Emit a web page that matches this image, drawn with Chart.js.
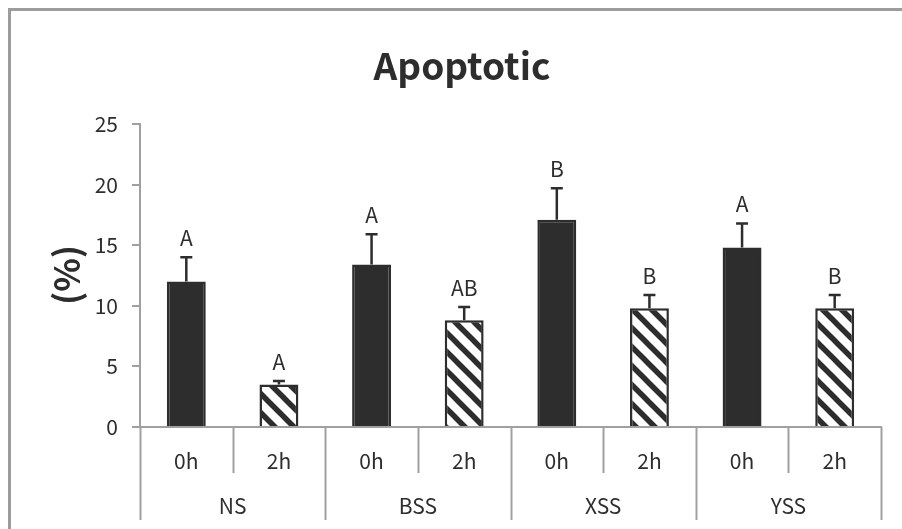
<!DOCTYPE html>
<html>
<head>
<meta charset="utf-8">
<title>Apoptotic</title>
<script src="https://cdn.jsdelivr.net/npm/chart.js@4.4.0/dist/chart.umd.min.js"></script>
<style>
  html, body { margin: 0; padding: 0; background: #fff; }
  #wrap { width: 902px; height: 529px; }
</style>
</head>
<body>
<div id="wrap"><canvas id="chart" width="902" height="529"></canvas></div>
<script>
// data
const groups = ['NS', 'BSS', 'XSS', 'YSS'];
const times = ['0h', '2h'];
const values = [12.0, 3.5, 13.4, 8.8, 17.1, 9.8, 14.8, 9.8];
const errors = [2.0, 0.3, 2.5, 1.1, 2.6, 1.1, 2.0, 1.1];
const letters = ['A', 'A', 'A', 'AB', 'B', 'B', 'A', 'B'];
const yTicks = [0, 5, 10, 15, 20, 25];

const FONT = '"Noto Sans CJK KR", "Noto Sans", sans-serif';
const DARK = '#2d2d2d';
const AXIS = '#a0a0a0';

// diagonal hatch for the 2h bars
function makeHatch() {
  const s = 19;
  const c = document.createElement('canvas');
  c.width = s;
  c.height = s;
  const g = c.getContext('2d');
  g.fillStyle = '#fff';
  g.fillRect(0, 0, s, s);
  g.strokeStyle = DARK;
  g.lineWidth = 5.5;
  for (let k = -1; k <= 1; k++) {
    g.beginPath();
    g.moveTo(-3, -3 + k * s);
    g.lineTo(s + 3, s + 3 + k * s);
    g.stroke();
  }
  return g.createPattern(c, 'repeat');
}
const hatch = makeHatch();

const labels = groups.flatMap(() => times);
const fills = labels.map((t, i) => (i % 2 === 0 ? DARK : hatch));

// frame, titles, error bars, group labels
const decor = {
  id: 'decor',
  beforeDraw(chart) {
    const ctx = chart.ctx;
    ctx.save();
    ctx.fillStyle = '#fff';
    ctx.fillRect(0, 0, chart.width, chart.height);
    ctx.strokeStyle = '#9c9c9c';
    ctx.lineWidth = 3;
    ctx.strokeRect(9.5, 9.5, 1200, 1200);
    ctx.restore();
  },
  afterDatasetsDraw(chart) {
    const ctx = chart.ctx;
    const y = chart.scales.y;
    const meta = chart.getDatasetMeta(0);
    ctx.save();
    ctx.strokeStyle = DARK;
    ctx.lineWidth = 2.5;
    ctx.fillStyle = DARK;
    ctx.font = '21px ' + FONT;
    ctx.textAlign = 'center';
    ctx.textBaseline = 'middle';
    meta.data.forEach((bar, i) => {
      const top = y.getPixelForValue(values[i] + errors[i]);
      ctx.beginPath();
      ctx.moveTo(bar.x, bar.y);
      ctx.lineTo(bar.x, top);
      ctx.moveTo(bar.x - 6, top);
      ctx.lineTo(bar.x + 6, top);
      ctx.stroke();
      ctx.fillText(letters[i], bar.x, top - 19);
    });
    ctx.restore();
  },
  afterDraw(chart) {
    const ctx = chart.ctx;
    const x = chart.scales.x;
    const area = chart.chartArea;
    const slot = (area.right - area.left) / labels.length;
    ctx.save();
    ctx.strokeStyle = AXIS;
    ctx.lineWidth = 2;
    for (let i = 0; i <= labels.length; i++) {
      const px = Math.round(area.left + i * slot) + 0.5;
      ctx.beginPath();
      ctx.moveTo(px, area.bottom);
      ctx.lineTo(px, i % 2 === 0 ? 520 : 473);
      ctx.stroke();
    }
    ctx.fillStyle = DARK;
    ctx.font = '21px ' + FONT;
    ctx.textAlign = 'center';
    ctx.textBaseline = 'middle';
    groups.forEach((g, gi) => {
      const cx = (x.getPixelForValue(gi * 2) + x.getPixelForValue(gi * 2 + 1)) / 2;
      ctx.fillText(g, cx, 506);
    });
    // chart title
    ctx.font = 'bold 37px ' + FONT;
    ctx.textBaseline = 'alphabetic';
    ctx.fillText('Apoptotic', 462, 80);
    // y axis title
    ctx.translate(67, 275);
    ctx.rotate(-Math.PI / 2);
    ctx.font = 'bold 35px ' + FONT;
    ctx.textBaseline = 'middle';
    ctx.fillText('(%)', 0, 0);
    ctx.restore();
  }
};

new Chart(document.getElementById('chart'), {
  type: 'bar',
  data: {
    labels: labels,
    datasets: [{
      data: values,
      backgroundColor: fills,
      borderColor: DARK,
      borderWidth: 2.5,
      barPercentage: 0.42,
      categoryPercentage: 1.0
    }]
  },
  options: {
    responsive: false,
    animation: false,
    layout: { padding: { top: 124, right: 21, bottom: 0, left: 0 } },
    plugins: {
      legend: { display: false },
      title: { display: false },
      tooltip: { enabled: false }
    },
    scales: {
      x: {
        grid: { display: false, drawTicks: false },
        border: { display: true, color: AXIS, width: 2 },
        ticks: { color: DARK, font: { family: FONT, size: 21 }, padding: 21 },
        afterFit(scale) { scale.height = 102; }
      },
      y: {
        min: 0,
        max: 25,
        afterBuildTicks(scale) { scale.ticks = yTicks.map(v => ({ value: v })); },
        grid: { drawOnChartArea: false, color: AXIS, lineWidth: 2, tickLength: 8 },
        border: { color: AXIS, width: 2 },
        ticks: { color: DARK, font: { family: FONT, size: 21 }, padding: 14 },
        afterFit(scale) { scale.width = 140; }
      }
    }
  },
  plugins: [decor]
});
</script>
</body>
</html>
